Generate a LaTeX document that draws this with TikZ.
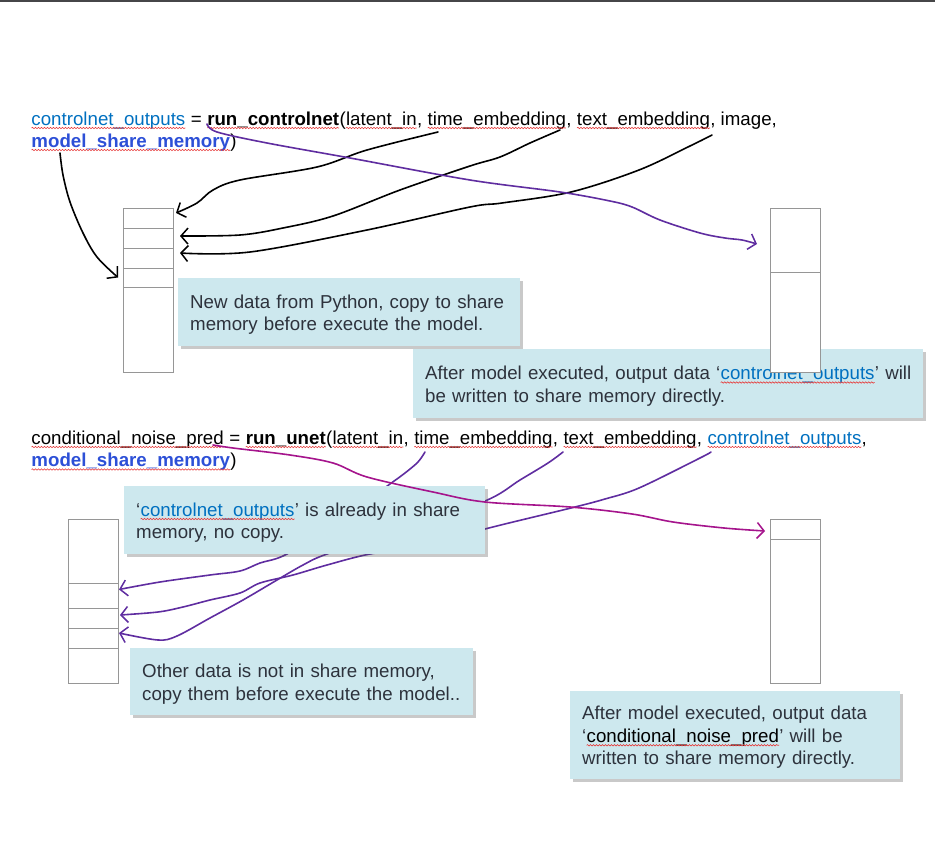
\documentclass[tikz,border=0pt]{standalone}
\usepackage{fontspec}
\setmainfont{Liberation Sans}
\usetikzlibrary{positioning,arrows.meta,shadows,decorations.pathmorphing}

\definecolor{codeblue}{RGB}{0,112,192}
\definecolor{memblue}{RGB}{45,80,215}
\definecolor{noteblue}{RGB}{205,232,238}
\definecolor{notetext}{RGB}{45,50,60}
\definecolor{cellgray}{RGB}{150,150,150}
\definecolor{inkpurple}{RGB}{95,45,160}
\definecolor{inkmagenta}{RGB}{165,20,140}
\definecolor{squigred}{RGB}{230,60,60}
\definecolor{topgray}{RGB}{70,70,72}

\newcommand\codefont{\fontsize{18.7pt}{22.5pt}\selectfont}
\newcommand\topstrut{\rule{0pt}{18pt}}
\newcommand\wavy[1]{\tikz[baseline=(w.base)]{\node[inner sep=0pt, outer sep=0pt, draw=none, fill=none,
      minimum width=0pt, minimum height=0pt, text width=, align=none, anchor=base] (w) {#1};
    \draw[squigred, line width=0.6pt, decorate, decoration={snake, amplitude=0.7pt, segment length=3pt}] ([yshift=-3pt]w.base west) -- ([yshift=-3pt]w.base east);}}

\tikzset{
  codeline/.style={anchor=base west, inner sep=0pt, font=\codefont},
  note/.style={anchor=north west, fill=noteblue, text=notetext, font=\codefont,
    align=left, inner xsep=12pt, inner ysep=0pt,
    drop shadow={shadow xshift=3pt, shadow yshift=-3pt, opacity=0.3, fill=black!70}},
  cell/.style={draw=cellgray, fill=white, line width=1pt, minimum width=50pt,
    inner sep=0pt, outer sep=0pt},
  ink/.style={line width=1.6pt, line cap=round, line join=round,
    -{Straight Barb[length=7pt,width=16pt,line width=1.5pt]}}
}

\begin{document}
\begin{tikzpicture}[x=1pt, y=-1pt]

    \useasboundingbox (0,0) rectangle (935,857);

    % Riga in alto
    \fill[topgray] (0,0) rectangle (935,2);

    % Memoria condivisa di sinistra (controlnet)
    \node[cell, minimum height=20pt, anchor=north west] (ma1) at (123,208) {};
    \node[cell, minimum height=20pt, below=0pt of ma1] (ma2) {};
    \node[cell, minimum height=20pt, below=0pt of ma2] (ma3) {};
    \node[cell, minimum height=19pt, below=0pt of ma3] (ma4) {};
    \node[cell, minimum height=85pt, below=0pt of ma4] (ma5) {};

    % Memoria condivisa di sinistra (unet)
    \node[cell, minimum height=64pt, anchor=north west] (mb1) at (68,519) {};
    \node[cell, minimum height=25pt, below=0pt of mb1] (mb2) {};
    \node[cell, minimum height=20pt, below=0pt of mb2] (mb3) {};
    \node[cell, minimum height=20pt, below=0pt of mb3] (mb4) {};
    \node[cell, minimum height=35pt, below=0pt of mb4] (mb5) {};

    % Chiamata di run_controlnet
    \node[codeline] (ctrlA) at (31,125) {\textcolor{codeblue}{\wavy{controlnet\_outputs}} = \textbf{\wavy{run\_controlnet}}(\wavy{latent\_in}, \wavy{time\_embedding}, \wavy{text\_embedding}, image,};
    \node[codeline] (ctrlB) at (31,147) {\textcolor{memblue}{\textbf{\wavy{model\_share\_memory}}})};

    % Chiamata di run_unet
    \node[codeline] (unetA) at (31,444) {\wavy{conditional\_noise\_pred} = \textbf{\wavy{run\_unet}}(\wavy{latent\_in}, \wavy{time\_embedding}, \wavy{text\_embedding}, \textcolor{codeblue}{\wavy{controlnet\_outputs}},};
    \node[codeline] (unetB) at (31,466.5) {\textcolor{memblue}{\textbf{\wavy{model\_share\_memory}}})};

    % Punti di partenza dei tratti
    \coordinate (fromMem) at (60,153);
    \coordinate (fromLatent) at (438,132);
    \coordinate (fromTime) at (560,130);
    \coordinate (fromImage) at (712,135);
    \coordinate (fromRun) at (207,124);
    \coordinate (fromLatentB) at (425,452);
    \coordinate (fromTextB) at (563,452);
    \coordinate (fromCtrlB) at (711,452);
    \coordinate (fromPred) at (213,445);

    % Tratti neri verso la memoria
    \draw[ink] plot[smooth, tension=0.55] coordinates {(fromMem) (63,175) (70,202) (83,233) (97,257) ([xshift=-5pt]ma4.west)};
    \draw[ink] plot[smooth, tension=0.55] coordinates {(fromLatent) (367,150) (317,167) (240,180) (213,190) (197,203) ([xshift=3pt,yshift=5pt]ma1.east)};
    \draw[ink] plot[smooth, tension=0.55] coordinates {(fromTime) (530,143) (500,157) (470,166) (400,190) (333,216) (283,228) (240,235) ([xshift=7pt,yshift=2pt]ma2.east)};
    \draw[ink] plot[smooth, tension=0.55] coordinates {(fromImage) (690,146) (639,170) (571,192) (502,203) (470,207) (367,230) (250,252) ([xshift=7pt,yshift=5pt]ma3.east)};

    % Tratti viola verso la memoria (unet)
    \draw[ink, inkpurple] plot[smooth, tension=0.55] coordinates {(fromLatentB) (418,462) (405,473) (390,484) (340,520) (287,554) (260,563) (240,571) (210,575) (160,582) ([xshift=1pt,yshift=6pt]mb2.east)};
    \draw[ink, inkpurple] plot[smooth, tension=0.55] coordinates {(fromTextB) (548,463) (520,480) (485,501) (400,530) (327,554) (303,565) (277,580) (243,600) (210,618) (177,636) (158,640) ([xshift=1pt,yshift=5pt]mb4.east)};
    \draw[ink, inkpurple] plot[smooth, tension=0.55] coordinates {(fromCtrlB) (700,458) (639,488) (605,499) (571,508) (485,529) (430,545) (370,554) (327,565) (293,575) (260,583) (240,593) (210,600) (183,607) (158,612) ([xshift=2pt,yshift=3pt]mb3.east)};

    % Riquadri di commento
    \node[note, text width=318pt, minimum height=68pt] (noteNew) at (178,278)
        {\topstrut\mbox{New data from Python, copy to share}\\\mbox{memory before execute the model.}};
    \node[note, text width=486pt, minimum height=69pt] (noteOutA) at (413,349)
        {\topstrut\mbox{After model executed, output data ‘\textcolor{codeblue}{\wavy{controlnet\_outputs}}’ will}\\\mbox{be written to share memory directly.}};
    \node[note, text width=337pt, minimum height=68pt] (noteHave) at (124,486)
        {\topstrut\mbox{‘\textcolor{codeblue}{\wavy{controlnet\_outputs}}’ is already in share}\\\mbox{memory, no copy.}};
    \node[note, text width=319pt, minimum height=67pt] (noteOther) at (130,648)
        {\topstrut\mbox{Other data is not in share memory,}\\\mbox{copy them before execute the model..}};
    \node[note, text width=306pt, minimum height=88pt] (noteOutB) at (570,691)
        {\topstrut\mbox{After model executed, output data}\\\mbox{‘\textcolor{black}{\wavy{conditional\_noise\_pred}}’ will be}\\\mbox{written to share memory directly.}};

    % Memoria condivisa di destra
    \node[cell, minimum height=64pt, anchor=north west] (mc1) at (770,208) {};
    \node[cell, minimum height=100pt, below=0pt of mc1] (mc2) {};
    \node[cell, minimum height=20pt, anchor=north west] (md1) at (770,519) {};
    \node[cell, minimum height=144pt, below=0pt of md1] (md2) {};

    % Tratti delle uscite
    \draw[ink, inkpurple] plot[smooth, tension=0.55] coordinates {(fromRun) (217,132) (267,143) (350,158) (470,180) (560,192) (610,201) (632,207) (660,220) (700,233) (725,238) (742,240) ([xshift=-13pt,yshift=-4pt]mc1.west)};
    \draw[ink, inkmagenta] plot[smooth, tension=0.55] coordinates {(fromPred) (233,448) (290,455) (333,463) (367,477) (433,492) (485,502) (570,507) (632,514) (673,522) (724,528) ([xshift=-5pt,yshift=-2pt]md1.west)};

\end{tikzpicture}
\end{document}
